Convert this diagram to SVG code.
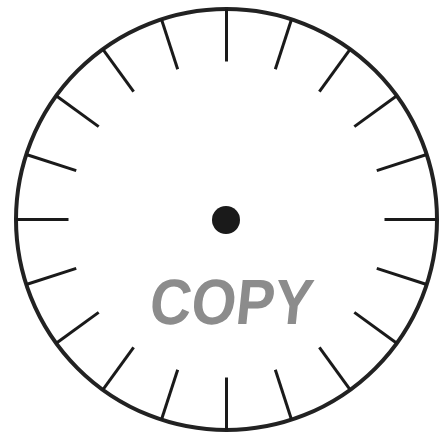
<svg xmlns="http://www.w3.org/2000/svg" xmlns:xlink="http://www.w3.org/1999/xlink" width="444" height="432" viewBox="0 0 444 432">
<style>
.rim{fill:none;stroke:#222;stroke-width:4}
.tick{stroke:#1a1a1a;stroke-width:3}
.hub{fill:#1a1a1a}
.wm{font-family:"Liberation Sans",Arial,sans-serif;font-weight:bold;font-size:64px;fill:#8c8c8c}
</style>
<defs>
<line id="t" class="tick" x1="226.5" y1="9" x2="226.5" y2="61.5"/>
</defs>
<rect width="444" height="432" fill="#fff"/>
<g id="dial">
<circle class="rim" cx="226.5" cy="219.5" r="210.5"/>
</g>
<g id="ticks">
<use href="#t"/>
<use href="#t" transform="rotate(18 226.5 219.5)"/>
<use href="#t" transform="rotate(36 226.5 219.5)"/>
<use href="#t" transform="rotate(54 226.5 219.5)"/>
<use href="#t" transform="rotate(72 226.5 219.5)"/>
<use href="#t" transform="rotate(90 226.5 219.5)"/>
<use href="#t" transform="rotate(108 226.5 219.5)"/>
<use href="#t" transform="rotate(126 226.5 219.5)"/>
<use href="#t" transform="rotate(144 226.5 219.5)"/>
<use href="#t" transform="rotate(162 226.5 219.5)"/>
<use href="#t" transform="rotate(180 226.5 219.5)"/>
<use href="#t" transform="rotate(198 226.5 219.5)"/>
<use href="#t" transform="rotate(216 226.5 219.5)"/>
<use href="#t" transform="rotate(234 226.5 219.5)"/>
<use href="#t" transform="rotate(252 226.5 219.5)"/>
<use href="#t" transform="rotate(270 226.5 219.5)"/>
<use href="#t" transform="rotate(288 226.5 219.5)"/>
<use href="#t" transform="rotate(306 226.5 219.5)"/>
<use href="#t" transform="rotate(324 226.5 219.5)"/>
<use href="#t" transform="rotate(342 226.5 219.5)"/>
</g>
<g id="hub">
<circle class="hub" cx="226" cy="220" r="14"/>
</g>
<g id="watermark">
<text class="wm" x="148" y="324" textLength="163" lengthAdjust="spacingAndGlyphs" transform="skewX(-6) translate(34 0)">COPY</text>
</g>
</svg>
